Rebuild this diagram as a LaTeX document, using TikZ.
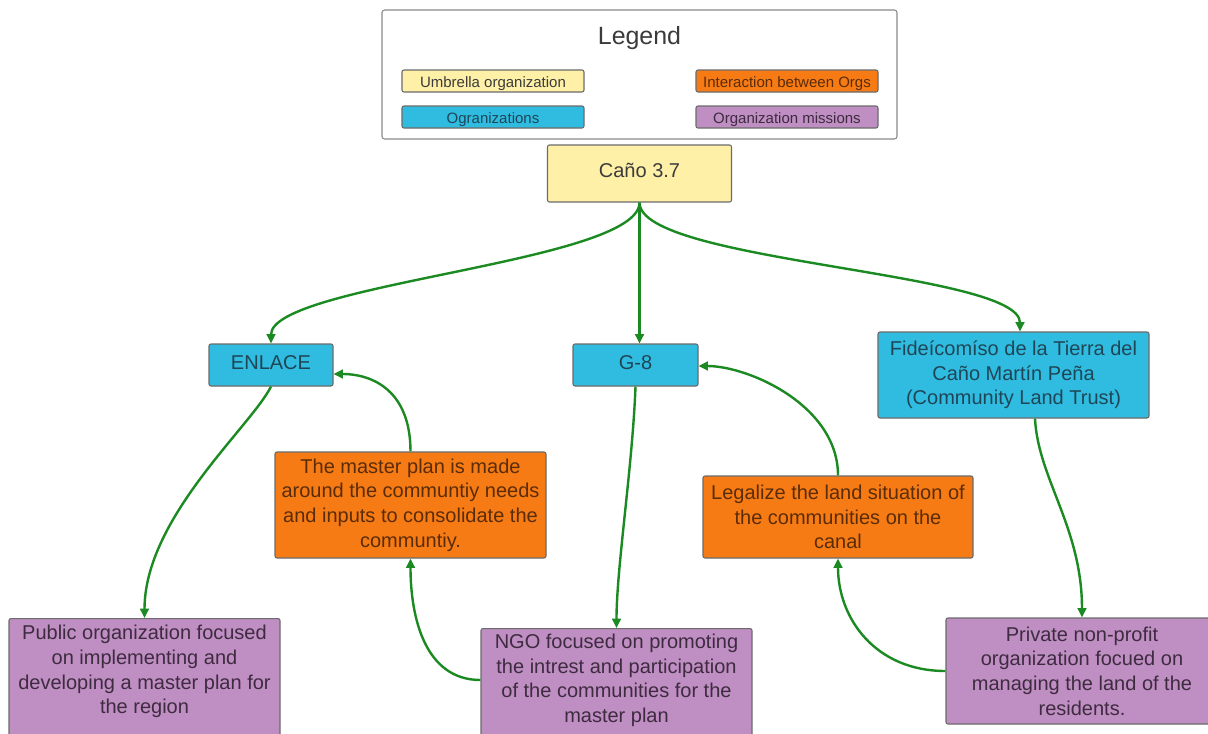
\documentclass[tikz,border=0pt]{standalone}
\usepackage{fontspec}
\setmainfont{Liberation Sans}
\usetikzlibrary{arrows.meta,calc}
\definecolor{umb}{HTML}{FFF0A8}
\definecolor{orgc}{HTML}{2FBCE0}
\definecolor{inter}{HTML}{F77B14}
\definecolor{miss}{HTML}{BF8EC2}
\definecolor{arrowgreen}{HTML}{1C8A22}
\definecolor{edgec}{HTML}{6B6B6B}
\definecolor{txtumb}{HTML}{3B3B3B}
\definecolor{txtorg}{HTML}{1F4656}
\definecolor{txtint}{HTML}{5A2C08}
\definecolor{txtmis}{HTML}{3E2B40}
\begin{document}
\begin{tikzpicture}[x=0.75pt,y=-0.75pt,
  box/.style={draw=edgec, line width=0.8pt, rounded corners=1.5pt, inner sep=0pt,
    align=center, font=\fontsize{15}{18.5}\selectfont},
  sz/.style 2 args={minimum width=#1*0.75pt, minimum height=#2*0.75pt},
  oneline/.style={text height=10.75pt, text depth=4.45pt},
  umbbox/.style={box, fill=umb, text=txtumb},
  orgbox/.style={box, fill=orgc, text=txtorg},
  intbox/.style={box, fill=inter, text=txtint},
  misbox/.style={box, fill=miss, text=txtmis},
  legitem/.style={font=\fontsize{11.25}{13}\selectfont, sz={182}{22}, text height=10.5pt, text depth=1pt},
  link/.style={draw=arrowgreen, line width=1.8pt, -{Triangle[length=7pt,width=6.5pt]}}
]
\useasboundingbox (0,0) rectangle (1208,733);
\fill[white] (0,0) rectangle (1208,733);
\clip (0,0) rectangle (1208,733);

% legend
\node[draw=edgec!80, fill=white, rounded corners=2pt, line width=0.8pt, sz={515}{129}] (legend) at (639.5,74.5) {};
\node[font=\fontsize{18.7}{22}\selectfont, text=txtumb] (legtitle) at (639.5,38) {Legend};
\node[umbbox, legitem] (lg1) at (493,81) {Umbrella organization};
\node[intbox, legitem] (lg2) at (787,81) {Interaction between Orgs};
\node[orgbox, legitem] (lg3) at (493,117) {Ogranizations};
\node[misbox, legitem] (lg4) at (787,117) {Organization missions};

% main nodes
\node[umbbox, oneline, sz={184}{57}] (cano) at (639.5,173.5) {Caño 3.7};
\node[orgbox, oneline, sz={124}{42}] (enlace) at (271,365) {ENLACE};
\node[orgbox, oneline, sz={125}{42}] (g8) at (635.5,365) {G-8};
\node[orgbox, sz={271}{86}] (fide) at (1013.5,375) {Fideícomíso de la Tierra del\\Caño Martín Peña\\(Community Land Trust)};
\node[intbox, sz={271}{106}] (or1) at (410.5,505) {The master plan is made\\around the communtiy needs\\and inputs to consolidate the\\communtiy.};
\node[intbox, sz={270}{82}] (or2) at (838,517) {Legalize the land situation of\\the communities on the\\canal};
\node[misbox, anchor=north, sz={271}{127}] (pu1) at (144.5,618)
  {\parbox[t][95pt][t]{203pt}{\centering\rule{0pt}{15.75pt}Public organization focused\\on implementing and\\developing a master plan for\\the region}};
\node[misbox, anchor=north, sz={271}{112}] (pu2) at (616.5,628)
  {\parbox[t][84pt][t]{203pt}{\centering\rule{0pt}{15pt}NGO focused on promoting\\the intrest and participation\\of the communities for the\\master plan}};
\node[misbox, sz={272}{106}] (pu3) at (1082,671) {Private non-profit\\organization focued on\\managing the land of the\\residents.};

% helper points
\coordinate (fideN) at ($(fide.north)+(6.5,0)$);
\coordinate (fideS) at ($(fide.south)+(21.5,0)$);
\coordinate (enE) at ($(enlace.east)+(0,9)$);
\coordinate (gE) at ($(g8.east)+(0,1)$);
\coordinate (pu2W) at ($(pu2.north west)+(0,52)$);

% connectors
\draw[link] (cano.south) .. controls ($(cano.south)+(0,60)$) and ($(enlace.north)+(0,-60)$) .. (enlace.north);
\draw[link] (cano.south) -- (cano.south |- g8.north);
\draw[link] (cano.south) .. controls ($(cano.south)+(0,60)$) and ($(fideN)+(0,-60)$) .. (fideN);
\draw[link] (enlace.south) .. controls ($(enlace.south)+(-20,40)$) and ($(pu1.north)+(0,-100)$) .. (pu1.north);
\draw[link] (or1.north) .. controls ($(or1.north)+(0,-60)$) and ($(enE)+(40,0)$) .. (enE);
\draw[link] (pu2W) .. controls ($(pu2W)+(-55,0)$) and ($(or1.south)+(0,60)$) .. (or1.south);
\draw[link] (g8.south) .. controls ($(g8.south)+(-3,80)$) and ($(pu2.north)+(0,-60)$) .. (pu2.north);
\draw[link] (or2.north) .. controls ($(or2.north)+(0,-70)$) and ($(gE)+(50,0)$) .. (gE);
\draw[link] (pu3.west) .. controls ($(pu3.west)+(-70,0)$) and ($(or2.south)+(0,60)$) .. (or2.south);
\draw[link] (fideS) .. controls ($(fideS)+(3,60)$) and ($(pu3.north)+(0,-90)$) .. (pu3.north);
\end{tikzpicture}
\end{document}
